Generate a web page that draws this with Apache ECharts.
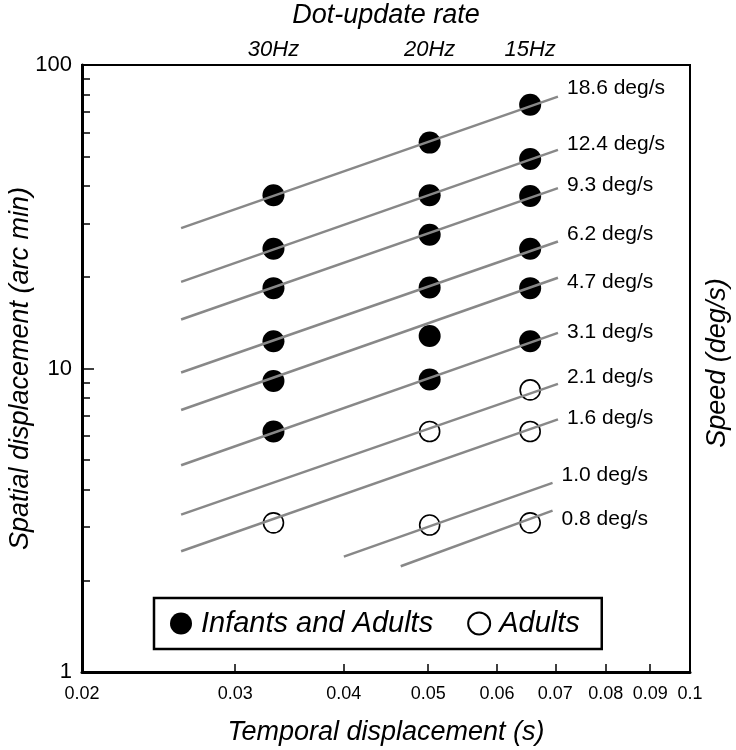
<!DOCTYPE html>
<html><head><meta charset="utf-8">
<script src="https://cdn.jsdelivr.net/npm/echarts@6/dist/echarts.min.js"></script>
<style>html,body{margin:0;padding:0;background:#fff}#c{width:736px;height:750px}</style>
</head><body><div id="c"></div>
<script>
// ---- data ----
const rateTimes = [0.0332, 0.0502, 0.0655];       // s (dot-update columns as drawn)
const rateLabels = ['30Hz', '20Hz', '15Hz'];
const xTickLabels = [0.02, 0.03, 0.04, 0.05, 0.06, 0.07, 0.08, 0.09, 0.1];
const xTicks = [0.03, 0.04, 0.05, 0.06, 0.07, 0.08, 0.09];
const yTickLabels = [1, 10, 100];
const yMinorTicks = [2, 3, 4, 5, 6, 7, 8, 9, 20, 30, 40, 50, 60, 70, 80, 90];

const speedLabels = ['18.6 deg/s', '12.4 deg/s', '9.3 deg/s', '6.2 deg/s', '4.7 deg/s',
                     '3.1 deg/s', '2.1 deg/s', '1.6 deg/s', '1.0 deg/s', '0.8 deg/s'];
const lineStartT = [0.026, 0.026, 0.026, 0.026, 0.026, 0.026, 0.026, 0.026, 0.040, 0.0465];
const lineEndT   = [0.0705, 0.0705, 0.0705, 0.0705, 0.0705, 0.0705, 0.0705, 0.0705, 0.0695, 0.0695];
const lineStartY = [29.0, 19.3, 14.5, 9.7, 7.3, 4.8, 3.3, 2.5, 2.4, 2.23];
const lineEndY   = [78.7, 52.5, 39.3, 26.2, 19.9, 13.1, 8.9, 6.8, 4.2, 3.4];

// Infants and Adults (filled), per dot-update rate column
const filled30Hz = [37.2, 24.8, 18.4, 12.3, 9.1, 6.2];
const filled20Hz = [55.5, 37.2, 27.6, 18.5, 12.8, 9.2];
const filled15Hz = [74.0, 49.0, 37.0, 24.8, 18.4, 12.3];
// Adults only (open)
const open30Hz = [3.1];
const open20Hz = [6.2, 3.05];
const open15Hz = [8.5, 6.2, 3.1];

// ---- styling (not data) ----
const speedLabelDy = [-8, -6, -3, -7, 4, -1, -7, -1, -8, 9];
const FONT = '"Liberation Sans", Arial, Helvetica, sans-serif';

function pts(t, arr) { return arr.map(v => [t, v]); }
const filledData = [].concat(pts(rateTimes[0], filled30Hz), pts(rateTimes[1], filled20Hz), pts(rateTimes[2], filled15Hz));
const openData = [].concat(pts(rateTimes[0], open30Hz), pts(rateTimes[1], open20Hz), pts(rateTimes[2], open15Hz));

const lineSeries = speedLabels.map((lab, i) => ({
  type: 'line', name: lab, z: 5, silent: true, showSymbol: false, symbol: 'none',
  data: [[lineStartT[i], lineStartY[i]], [lineEndT[i], lineEndY[i]]],
  lineStyle: { color: '#888888', width: 2.5 },
  endLabel: { show: true, formatter: lab, distance: 9, offset: [0, speedLabelDy[i]],
              color: '#000', fontSize: 21, fontFamily: FONT }
}));

function rateLabelFor(v) {
  let best = 0;
  rateTimes.forEach((t, i) => { if (Math.abs(t - v) < Math.abs(rateTimes[best] - v)) best = i; });
  return rateLabels[best];
}

const chart = echarts.init(document.getElementById('c'), null, { renderer: 'canvas' });
chart.setOption({
  animation: false,
  backgroundColor: '#fff',
  textStyle: { fontFamily: FONT },
  grid: { left: 82, right: 46, top: 65, bottom: 78, show: true, borderColor: '#000', borderWidth: 2,
          containLabel: false, outerBoundsMode: 'none' },
  legend: {
    data: ['Infants and Adults', 'Adults'], left: 154, top: 598, orient: 'horizontal',
    padding: [11, 22, 11, 16], itemGap: 34, itemWidth: 22, itemHeight: 22, icon: 'circle',
    borderColor: '#000', borderWidth: 2.5, backgroundColor: '#fff',
    textStyle: { fontStyle: 'italic', fontSize: 29, color: '#000', fontFamily: FONT, padding: [0, 0, 0, 4] }
  },
  xAxis: [{
    type: 'log', logBase: 10, min: 0.02, max: 0.1, position: 'bottom',
    axisLine: { show: true, lineStyle: { color: '#000', width: 3 } },
    axisTick: { show: true, inside: true, length: 8, customValues: xTicks, lineStyle: { color: '#000', width: 1.5 } },
    axisLabel: { show: true, customValues: xTickLabels, fontSize: 18, color: '#000', margin: 13,
                 formatter: v => String(+(+v).toFixed(2)) },
    splitLine: { show: false }, minorTick: { show: false },
    name: 'Temporal displacement (s)', nameLocation: 'middle', nameGap: 47, nameMoveOverlap: false,
    nameTextStyle: { fontStyle: 'italic', fontSize: 27, color: '#000' }
  }, {
    type: 'log', logBase: 10, min: 0.02, max: 0.1, position: 'top',
    axisLine: { show: false }, axisTick: { show: false }, splitLine: { show: false },
    axisLabel: { show: true, customValues: rateTimes, fontSize: 22, fontStyle: 'italic', color: '#000', margin: 4,
                 formatter: v => rateLabelFor(+v) }
  }],
  yAxis: [{
    type: 'log', logBase: 10, min: 1, max: 100, position: 'left',
    axisLine: { show: true, lineStyle: { color: '#000', width: 3 } },
    axisTick: { show: true, inside: true, length: 12, customValues: yTickLabels, lineStyle: { color: '#000', width: 1.5 } },
    axisLabel: { show: true, customValues: yTickLabels, fontSize: 22, color: '#000', margin: 10 },
    splitLine: { show: false },
    name: 'Spatial displacement (arc min)', nameLocation: 'middle', nameGap: 48, nameRotate: 90, nameMoveOverlap: false,
    nameTextStyle: { fontStyle: 'italic', fontSize: 27, color: '#000' }
  }, {
    type: 'log', logBase: 10, min: 1, max: 100, position: 'left', offset: 0,
    axisLine: { show: false },
    axisTick: { show: true, inside: true, length: 8, customValues: yMinorTicks, lineStyle: { color: '#000', width: 1.5 } },
    axisLabel: { show: false }, splitLine: { show: false }
  }],
  graphic: [
    { type: 'text', x: 386, y: 15, style: { text: 'Dot-update rate', font: 'italic 27px ' + FONT, fill: '#000', align: 'center', verticalAlign: 'middle' } },
    { type: 'text', x: 717, y: 363, rotation: Math.PI / 2, style: { text: 'Speed (deg/s)', font: 'italic 27px ' + FONT, fill: '#000', align: 'center', verticalAlign: 'middle' } }
  ],
  series: [
    { type: 'scatter', name: 'Infants and Adults', data: filledData, symbol: 'circle', symbolSize: 22, z: 2,
      itemStyle: { color: '#000', opacity: 1 } },
    { type: 'scatter', name: 'Adults', data: openData, symbol: 'circle', symbolSize: 20, z: 2,
      itemStyle: { color: '#fff', borderColor: '#000', borderWidth: 1.6, opacity: 1 } }
  ].concat(lineSeries)
});
</script>
</body></html>
